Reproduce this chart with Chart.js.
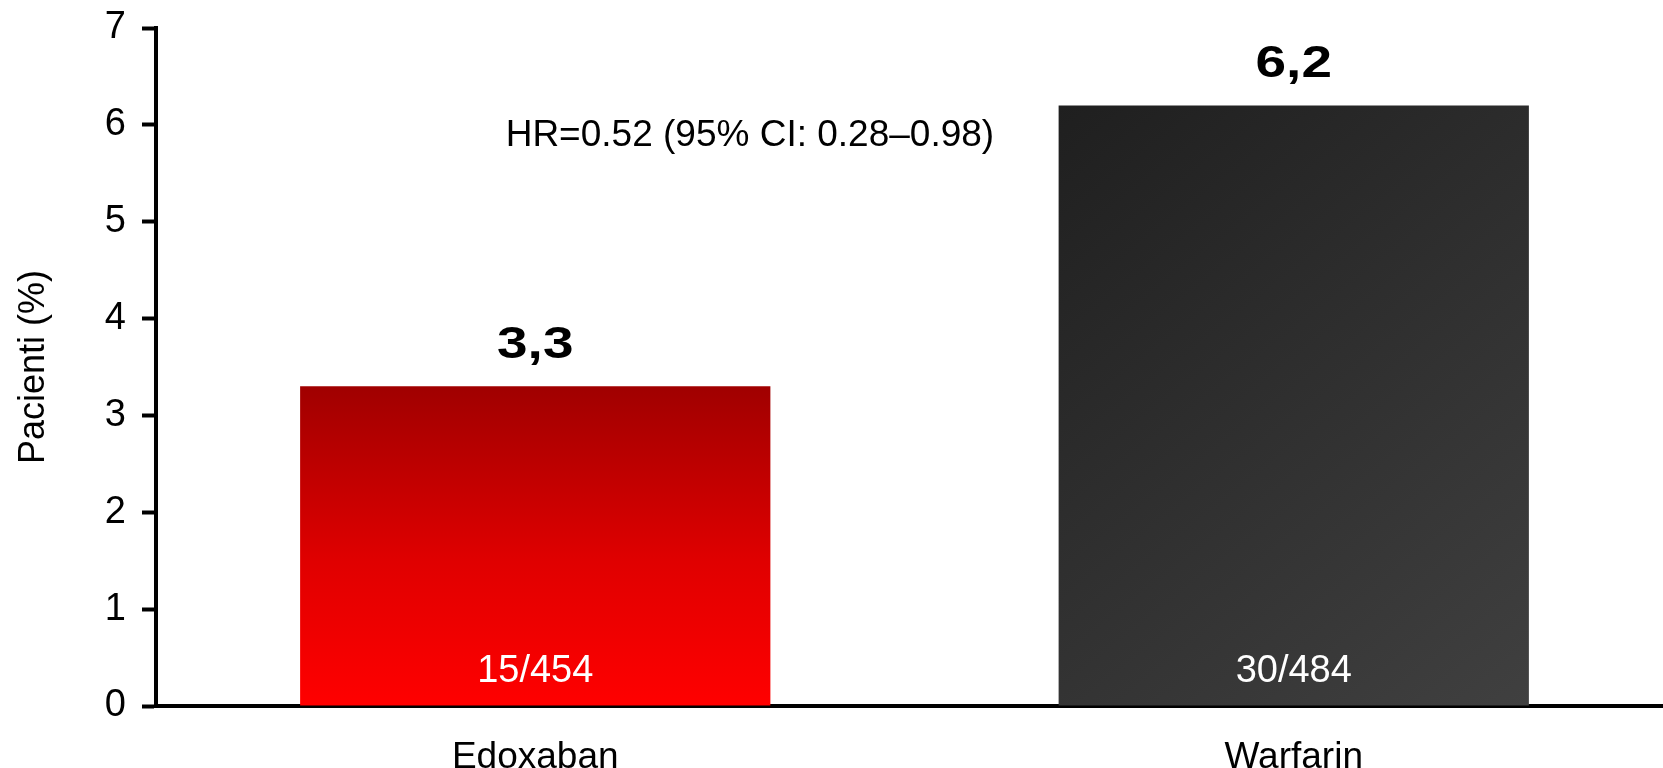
<!DOCTYPE html>
<html>
<head>
<meta charset="utf-8">
<script src="https://cdn.jsdelivr.net/npm/chart.js@4.4.1/dist/chart.umd.min.js"></script>
<style>
  html, body { margin: 0; padding: 0; background: #fff; overflow: hidden; }
  #wrap { width: 1673px; height: 768px; }
</style>
</head>
<body>
<div id="wrap"><canvas id="grafico"></canvas></div>
<script>
"use strict";

// dati del grafico
const categorie = ["Edoxaban", "Warfarin"];
const valori = [3.3, 6.2];
const pazienti = ["15/454", "30/484"];
const yMax = 7;
const testoHR = "HR=0.52 (95% CI: 0.28–0.98)";

const FONT = "'Liberation Sans', Arial, Helvetica, sans-serif";

// colore barre: rosso sfumato verticale, grigio scuro sfumato diagonale
function coloreBarra(context) {
  if (context.type !== "data") return "#f00";
  const chart = context.chart;
  const sx = chart.scales.x;
  const sy = chart.scales.y;
  if (!sx || !sy || !chart.chartArea) return "#f00";
  const c = chart.ctx;
  const i = context.dataIndex;
  const top = sy.getPixelForValue(context.raw);
  const base = sy.getPixelForValue(0);
  const meta = chart.getDatasetMeta(0).data[i];
  const w = meta && meta.width ? meta.width : 470;
  const cx = sx.getPixelForValue(i);
  let g;
  if (i === 0) {
    g = c.createLinearGradient(0, top, 0, base);
    g.addColorStop(0, "#a00000");
    g.addColorStop(0.55, "#e00000");
    g.addColorStop(1, "#ff0000");
  } else {
    g = c.createLinearGradient(cx - w / 2, top, cx + w / 2, base);
    g.addColorStop(0, "#1f1f1f");
    g.addColorStop(1, "#404040");
  }
  return g;
}

const etichette = {
  id: "etichette",
  afterDatasetsDraw(chart) {
    const c = chart.ctx;
    const meta = chart.getDatasetMeta(0);
    c.save();
    c.textAlign = "center";
    c.textBaseline = "alphabetic";
    meta.data.forEach(function (bar, i) {
      // valore sopra la barra (grassetto largo)
      c.save();
      c.translate(bar.x, bar.y - 28);
      c.scale(1.22, 1);
      c.fillStyle = "#000";
      c.font = "bold 45px " + FONT;
      c.fillText(String(valori[i]).replace(".", ","), 0, 0);
      c.restore();
      // pazienti dentro la barra
      c.fillStyle = "#fff";
      c.font = "38px " + FONT;
      c.fillText(pazienti[i], bar.x, bar.base - 24);
    });
    // testo HR
    c.fillStyle = "#000";
    c.font = "37px " + FONT;
    c.textBaseline = "middle";
    c.fillText(testoHR, chart.scales.x.getPixelForValue(0.283), chart.scales.y.getPixelForValue(5.89));
    c.restore();
  },
};

let ctx = document.getElementById("grafico").getContext("2d");
let grafico = new Chart(ctx, {
  type: "bar",
  data: {
    labels: categorie,
    datasets: [
      {
        label: "Pacienti (%)",
        data: valori,
        backgroundColor: coloreBarra,
        categoryPercentage: 1,
        barPercentage: 0.62,
      },
    ],
  },
  options: {
    responsive: true,
    maintainAspectRatio: false,
    animation: false,
    layout: { padding: { top: 28, right: 0, left: 0, bottom: 0 } },
    plugins: {
      legend: { display: false },
      tooltip: { enabled: false },
    },
    scales: {
      x: {
        grid: { display: false, drawTicks: false },
        border: { display: true, color: "#000", width: 4 },
        ticks: {
          color: "#000",
          font: { family: FONT, size: 37 },
          padding: 30,
        },
        afterFit(scale) {
          scale.height = 62;
          scale.paddingLeft = 0;
          scale.paddingRight = 0;
        },
      },
      y: {
        min: 0,
        max: yMax,
        ticks: {
          stepSize: 1,
          color: "#000",
          font: { family: FONT, size: 38 },
          padding: 16,
        },
        grid: {
          drawOnChartArea: false,
          drawTicks: true,
          tickLength: 14,
          tickWidth: 4,
          tickColor: "#000",
        },
        border: { display: true, color: "#000", width: 4 },
        title: {
          display: true,
          text: "Pacienti (%)",
          color: "#000",
          font: { family: FONT, size: 36 },
          padding: { top: 12, bottom: 0 },
        },
        afterFit(scale) {
          scale.width = 156;
          scale.paddingTop = 0;
          scale.paddingBottom = 0;
        },
      },
    },
  },
  plugins: [etichette],
});
</script>
</body>
</html>
